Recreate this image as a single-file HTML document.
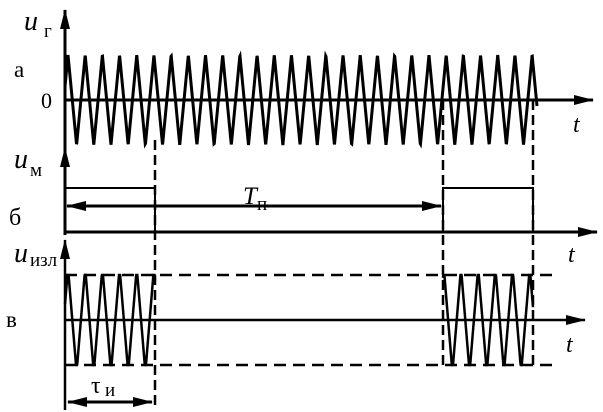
<!DOCTYPE html>
<html><head><meta charset="utf-8"><style>
html,body{margin:0;padding:0;background:#fff;width:603px;height:412px;overflow:hidden}
text{font-family:"Liberation Serif",serif;fill:#000}
</style></head><body>
<svg id="s" width="603" height="412" viewBox="0 0 603 412" xmlns="http://www.w3.org/2000/svg">
<defs>
<marker id="ar" markerWidth="20" markerHeight="10" refX="19" refY="5" orient="auto" markerUnits="userSpaceOnUse"><path d="M0,0 L20,5 L0,10 Z" fill="#000"/></marker>
<marker id="as" markerWidth="20" markerHeight="10" refX="1" refY="5" orient="auto" markerUnits="userSpaceOnUse"><path d="M20,0 L0,5 L20,10 Z" fill="#000"/></marker></defs>
<g stroke="#000" fill="none">
<line x1="65" y1="148" x2="65" y2="10" stroke-width="3" marker-end="url(#ar)"/>
<line x1="65" y1="235" x2="65" y2="148" stroke-width="3" marker-end="url(#ar)"/>
<line x1="65" y1="410" x2="65" y2="240" stroke-width="2.5" marker-end="url(#ar)"/>
<line x1="65" y1="100" x2="593" y2="100" stroke-width="3" marker-end="url(#ar)"/>
<line x1="65" y1="232" x2="597" y2="232" stroke-width="3" marker-end="url(#ar)"/>
<line x1="65" y1="320" x2="585" y2="320" stroke-width="2.5" marker-end="url(#ar)"/>
<line x1="155" y1="140" x2="155" y2="408" stroke-width="2.5" stroke-dasharray="10,5"/>
<line x1="443" y1="100" x2="443" y2="365" stroke-width="2.5" stroke-dasharray="10,5"/>
<line x1="533" y1="100" x2="533" y2="365" stroke-width="2.5" stroke-dasharray="10,5"/>
<line x1="65" y1="275" x2="555" y2="275" stroke-width="2.5" stroke-dasharray="12,7"/>
<line x1="65" y1="365" x2="555" y2="365" stroke-width="2.5" stroke-dasharray="12,7"/>
<polyline points="65,188 155,188 155,232" stroke-width="2"/>
<polyline points="443,232 443,188 533,188 533,232" stroke-width="2"/>
<line x1="67" y1="206" x2="441" y2="206" stroke-width="3" marker-start="url(#as)" marker-end="url(#ar)"/>
<line x1="68" y1="402" x2="152" y2="402" stroke-width="3" marker-start="url(#as)" marker-end="url(#ar)"/>
<polyline id="w1" stroke-width="3"/>
<polyline id="w2" stroke-width="2.5"/>
<polyline id="w3" stroke-width="2.5"/>
</g>
<text x="24" y="30" font-size="28" font-style="italic">u</text><text x="44" y="37" font-size="19">г</text>
<text x="14" y="77" font-size="23">а</text>
<text x="41" y="108" font-size="22">0</text>
<text x="573" y="132" font-size="24" font-style="italic">t</text>
<text x="14" y="168" font-size="28" font-style="italic">u</text><text x="30" y="176" font-size="19">м</text>
<text x="9" y="225" font-size="24">б</text>
<text x="568" y="262" font-size="24" font-style="italic">t</text>
<text x="243" y="204" font-size="25" font-style="italic">T</text><text x="257" y="210" font-size="19">п</text>
<text x="14" y="262" font-size="28" font-style="italic">u</text><text x="30" y="266" font-size="19">изл</text>
<text x="6" y="327" font-size="23">в</text>
<text x="566" y="352" font-size="24" font-style="italic">t</text>
<text x="91" y="393" font-size="24">τ</text><text x="105" y="396" font-size="19">и</text>
</svg>
<script>
function wave(x0,x1,p,yc,amp,clip){var pts=[];var P=17.19;
for(var x=x0;x<=x1+0.01;x+=0.25){var ph=((x-p)/P)%1;if(ph<0)ph+=1;
var v=ph<0.5?1-4*ph:-1+4*(ph-0.5);var y=yc-amp*v;if(clip){y=Math.max(yc-clip,Math.min(yc+clip,y));}
pts.push(x.toFixed(2)+","+y.toFixed(2));}return pts.join(" ");}
document.getElementById("w1").setAttribute("points",wave(65,537,68,100,45,0));
document.getElementById("w2").setAttribute("points",wave(65,155,68,320,52,45));
document.getElementById("w3").setAttribute("points",wave(443,533,461,320,52,45));
</script>
</body></html>
